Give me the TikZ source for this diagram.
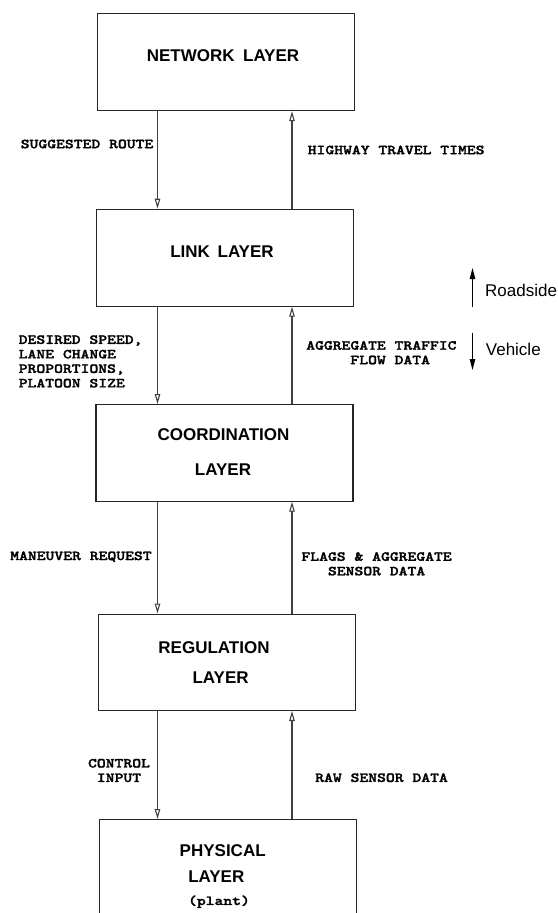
\documentclass[tikz,border=0pt]{standalone}
\usepackage{fontspec}
\newfontfamily\layerfont{Liberation Sans}
\newfontfamily\signalfont{lmmonolt10-bold.otf}[FakeBold=1.6]
\usetikzlibrary{arrows.meta}
\tikzset{
  layerbox/.style={draw=black!85, line width=1.2pt, inner sep=0pt, anchor=north west},
  title/.style={font=\layerfont\bfseries\fontsize{17}{20}\selectfont, inner sep=0pt},
  side/.style={font=\layerfont\fontsize{17}{20}\selectfont, inner sep=0pt, anchor=west},
  lab/.style={font=\signalfont\fontsize{13.8}{14.5}\selectfont, inner sep=0pt, xscale=1.22},
  flow/.style={draw=black!75, line width=1.1pt, -{Triangle[open, length=10pt, width=5.5pt]}},
  dirarrow/.style={draw=black, line width=1pt, -{Triangle[length=11pt, width=5.5pt]}}
}
\begin{document}
\begin{tikzpicture}[x=1pt, y=1pt]
  \useasboundingbox (0,-913) rectangle (557,0);
  \clip (0,-913) rectangle (557,0);

  % columns of the two signal paths
  \coordinate (colL) at (157.5,0);
  \coordinate (colR) at (292,0);

  % layer boxes
  \node[layerbox, minimum width=257pt, minimum height=97pt] (net) at (97,-13) {};
  \node[layerbox, minimum width=256.7pt, minimum height=96.8pt] (link) at (96,-208.7) {};
  \node[layerbox, minimum width=257.1pt, minimum height=96.5pt] (coord) at (95.3,-404) {};
  \node[layerbox, minimum width=256.7pt, minimum height=96.3pt] (reg) at (97.8,-613.5) {};
  \node[layerbox, minimum width=257pt, minimum height=130pt] (phys) at (99,-819) {};

  % layer names
  \node[title] (tnet) at (223,-56) {NETWORK\hspace{0.5em}LAYER};
  \node[title] (tlink) at (222,-251.7) {LINK\hspace{0.45em}LAYER};
  \node[title] (tcoord1) at (223.5,-435) {COORDINATION};
  \node[title] (tcoord2) at (223,-470) {LAYER};
  \node[title] (treg1) at (214,-647.7) {REGULATION};
  \node[title] (treg2) at (220.6,-677.3) {LAYER};
  \node[title] (tphys1) at (222.7,-850.7) {PHYSICAL};
  \node[title] (tphys2) at (216.3,-876.7) {LAYER};
  \node[lab] (tphys3) at (219,-901.7) {(plant)};

  % signals between layers
  \draw[flow] (colL |- net.south) -- (colL |- link.north);
  \draw[flow] (colR |- link.north) -- (colR |- net.south);
  \draw[flow] (colL |- link.south) -- (colL |- coord.north);
  \draw[flow] (colR |- coord.north) -- (colR |- link.south);
  \draw[flow] (colL |- coord.south) -- (colL |- reg.north);
  \draw[flow] (colR |- reg.north) -- (colR |- coord.south);
  \draw[flow] (colL |- reg.south) -- (colL |- phys.north);
  \draw[flow] (colR |- phys.north) -- (colR |- reg.south);

  % signal labels
  \node[lab, anchor=west] (lsug) at (20.5,-144) {SUGGESTED ROUTE};
  \node[lab, anchor=west] (lhwy) at (307.5,-150) {HIGHWAY TRAVEL TIMES};
  \node[lab, anchor=north west, align=left] (ldes) at (18.5,-335.1)
    {DESIRED SPEED,\\LANE CHANGE\\PROPORTIONS,\\PLATOON SIZE};
  \node[lab, anchor=north west, align=left] (lagg) at (306,-340.9)
    {AGGREGATE TRAFFIC\\\hphantom{XXXXX}FLOW DATA};
  \node[lab, anchor=west] (lman) at (10,-556.7) {MANEUVER REQUEST};
  \node[lab, align=center] (lflg) at (376.6,-563.85) {FLAGS \& AGGREGATE\\SENSOR DATA};
  \node[lab, align=center] (lctl) at (119,-770.5) {CONTROL\\INPUT};
  \node[lab, anchor=west] (lraw) at (315,-777.7) {RAW SENSOR DATA};

  % roadside / vehicle direction key
  \coordinate (rsA) at (472.5,-306.7);
  \coordinate (rsB) at (472.5,-268);
  \coordinate (veA) at (472.5,-332.7);
  \coordinate (veB) at (472.5,-370);
  \draw[dirarrow] (rsA) -- (rsB);
  \draw[dirarrow] (veA) -- (veB);
  \node[side] (troad) at (485,-290) {Roadside};
  \node[side] (tveh) at (485.7,-349) {Vehicle};
\end{tikzpicture}
\end{document}
